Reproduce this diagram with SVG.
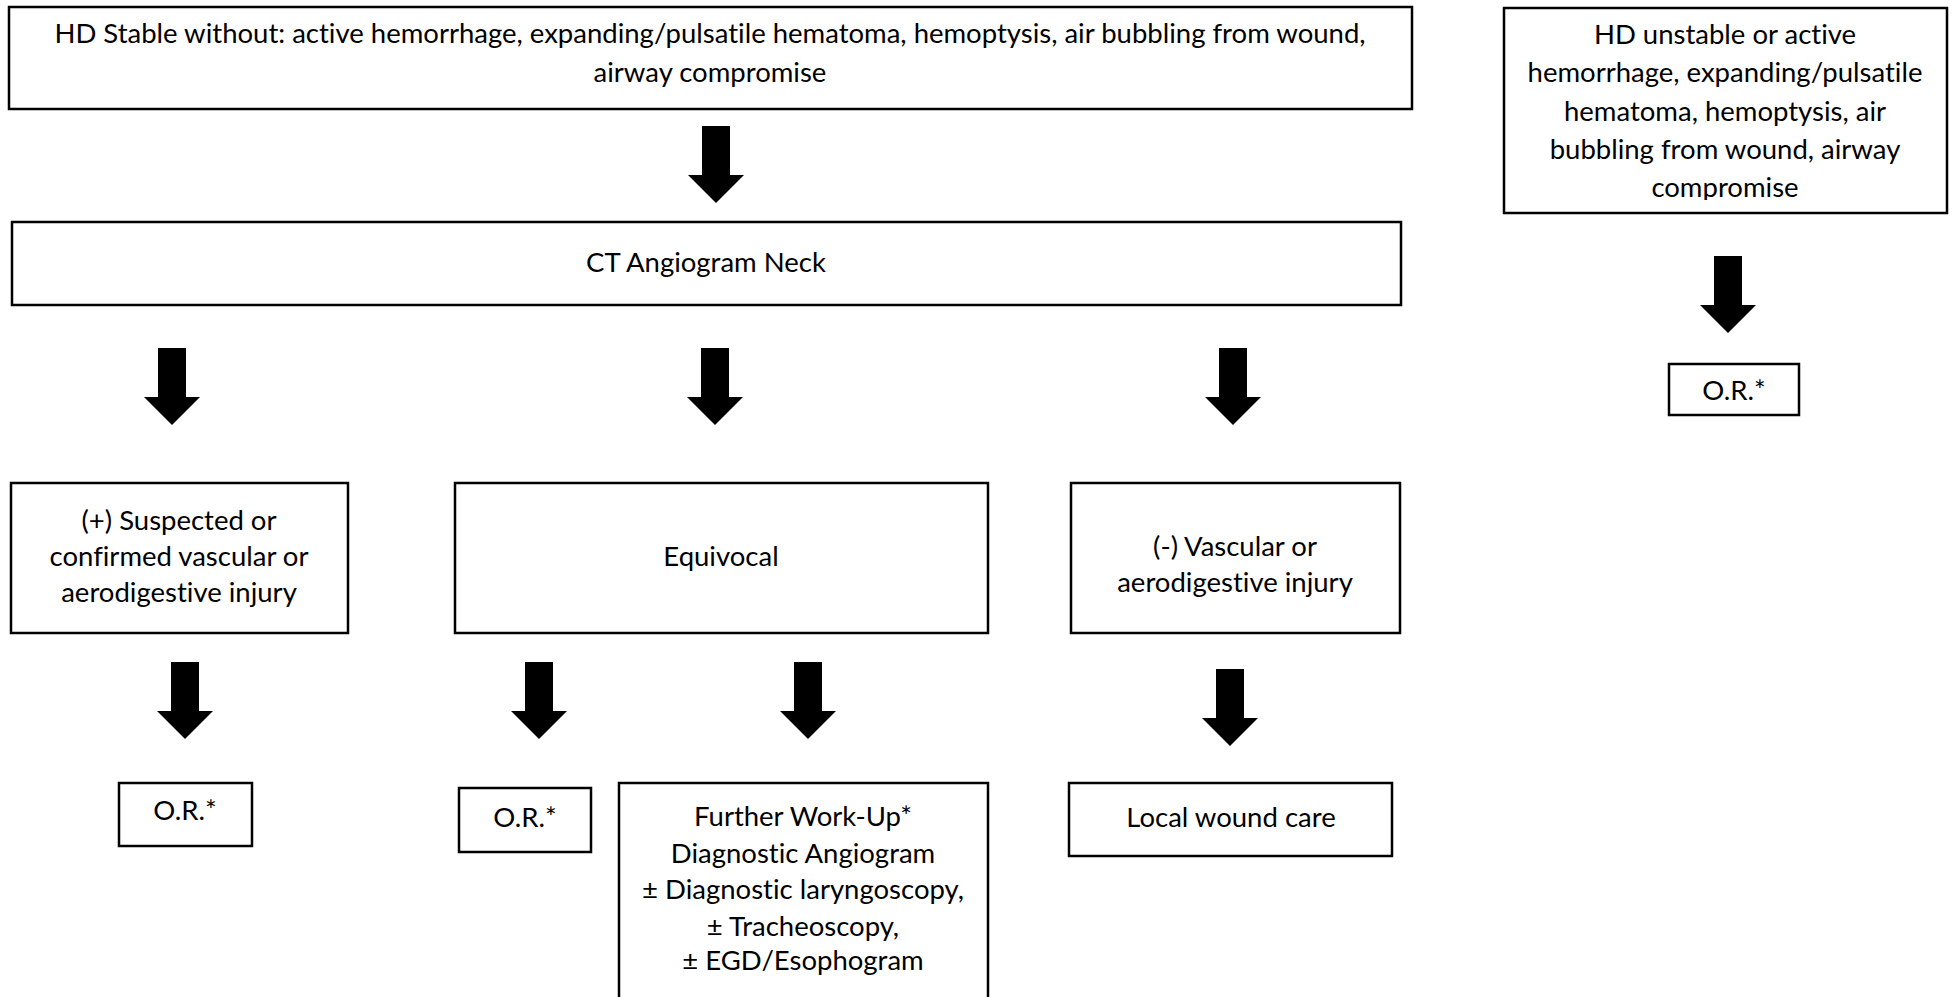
<svg xmlns="http://www.w3.org/2000/svg" width="1952" height="997" viewBox="0 0 1952 997">
<style>
.box{fill:#fff;stroke:#000;stroke-width:2.5}
.t{font-family:Lato,"Liberation Sans",sans-serif;font-size:27.5px;fill:#000;text-anchor:middle;font-variant-ligatures:none}
.arr{fill:#000}
</style>
<defs>
<path id="arrow" d="M-14,0 H14 V49 H28 L0,77 L-28,49 H-14 Z"/>
<clipPath id="clipR"><rect x="1500" y="0" width="452" height="200"/></clipPath>
</defs>
<rect width="1952" height="997" fill="#fff"/>
<g id="connectors" class="arr">
<use href="#arrow" x="716" y="126"/>
<use href="#arrow" x="172" y="348"/>
<use href="#arrow" x="715" y="348"/>
<use href="#arrow" x="1233" y="348"/>
<use href="#arrow" x="185" y="662"/>
<use href="#arrow" x="539" y="662"/>
<use href="#arrow" x="808" y="662"/>
<use href="#arrow" x="1230" y="669"/>
<use href="#arrow" x="1728" y="256"/>
</g>
<g id="n-stable">
<rect class="box" x="9" y="7" width="1403" height="102"/>
<text class="t" x="710" y="43">HD Stable without: active hemorrhage, expanding/pulsatile hematoma, hemoptysis, air bubbling from wound,</text>
<text class="t" x="710" y="82">airway compromise</text>
</g>
<g id="n-unstable">
<rect class="box" x="1504" y="8" width="443" height="205"/>
<g clip-path="url(#clipR)">
<text class="t" x="1725" y="44">HD unstable or active</text>
<text class="t" x="1725" y="82">hemorrhage, expanding/pulsatile</text>
<text class="t" x="1725" y="121">hematoma, hemoptysis, air</text>
<text class="t" x="1725" y="159">bubbling from wound, airway</text>
<text class="t" x="1725" y="197">compromise</text>
</g>
</g>
<g id="n-ct">
<rect class="box" x="12" y="222" width="1389" height="83"/>
<text class="t" x="706" y="272">CT Angiogram Neck</text>
</g>
<g id="n-or-right">
<rect class="box" x="1669" y="364" width="130" height="51"/>
<text class="t" x="1734" y="400">O.R.*</text>
</g>
<g id="n-positive">
<rect class="box" x="11" y="483" width="337" height="150"/>
<text class="t" x="179" y="530">(+) Suspected or</text>
<text class="t" x="179" y="566">confirmed vascular or</text>
<text class="t" x="179" y="602">aerodigestive injury</text>
</g>
<g id="n-equivocal">
<rect class="box" x="455" y="483" width="533" height="150"/>
<text class="t" x="721" y="566">Equivocal</text>
</g>
<g id="n-negative">
<rect class="box" x="1071" y="483" width="329" height="150"/>
<text class="t" x="1235" y="556">(-) Vascular or</text>
<text class="t" x="1235" y="592">aerodigestive injury</text>
</g>
<g id="n-or-1">
<rect class="box" x="119" y="783" width="133" height="63"/>
<text class="t" x="185" y="820">O.R.*</text>
</g>
<g id="n-or-2">
<rect class="box" x="459" y="788" width="132" height="64"/>
<text class="t" x="525" y="827">O.R.*</text>
</g>
<g id="n-workup">
<rect class="box" x="619" y="783" width="369" height="240"/>
<text class="t" x="803" y="826">Further Work-Up*</text>
<text class="t" x="803" y="863">Diagnostic Angiogram</text>
<text class="t" x="803" y="899">± Diagnostic laryngoscopy,</text>
<text class="t" x="803" y="936">± Tracheoscopy,</text>
<text class="t" x="803" y="970">± EGD/Esophogram</text>
</g>
<g id="n-local">
<rect class="box" x="1069" y="783" width="323" height="73"/>
<text class="t" x="1231" y="827">Local wound care</text>
</g>
</svg>
